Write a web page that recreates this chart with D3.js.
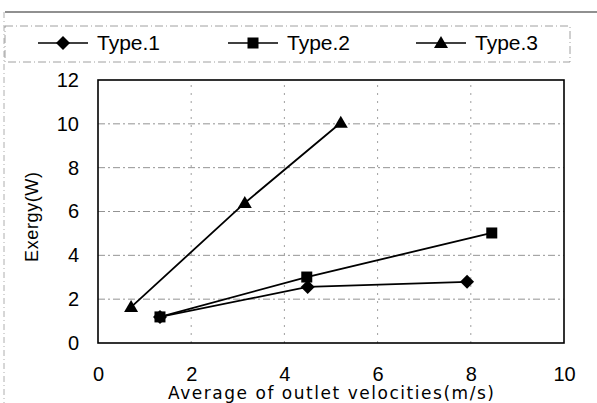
<!DOCTYPE html>
<html>
<head>
<meta charset="utf-8">
<title>Exergy vs outlet velocity</title>
<script src="https://cdnjs.cloudflare.com/ajax/libs/d3/7.8.5/d3.min.js"></script>
<style>
  body { margin: 0; background: #fff; }
  svg { display: block; }
  text { font-family: "Liberation Sans", Arial, sans-serif; fill: #000; }
</style>
</head>
<body>
<div id="chart"></div>
<script>
  // data
  var seriesNames = ["Type.1", "Type.2", "Type.3"];
  var markerKinds = ["diamond", "square", "triangle"];
  var type1 = [[1.33, 1.19], [4.5, 2.56], [7.92, 2.79]];
  var type2 = [[1.33, 1.19], [4.48, 3.01], [8.45, 5.02]];
  var type3 = [[0.71, 1.64], [3.15, 6.39], [5.21, 10.05]];
  var xTicks = [0, 2, 4, 6, 8, 10];
  var yTicks = [0, 2, 4, 6, 8, 10, 12];

  var series = [type1, type2, type3];

  var W = 597, H = 403;
  var m = { left: 98, right: 33, top: 80, bottom: 60 };

  var svg = d3.select("#chart").append("svg")
    .attr("width", W).attr("height", H);

  // outer frame (scanned look)
  svg.append("line").attr("x1", 5).attr("x2", W).attr("y1", 12).attr("y2", 12)
    .attr("stroke", "#222").attr("stroke-width", 1.2);
  svg.append("line").attr("x1", 4).attr("x2", 4).attr("y1", 12).attr("y2", H)
    .attr("stroke", "#999").attr("stroke-width", 0.8).attr("stroke-dasharray", "6,3,1,3");

  var x = d3.scaleLinear().domain([0, 10]).range([m.left, W - m.right]);
  var y = d3.scaleLinear().domain([0, 12]).range([H - m.bottom, m.top]);

  // grid
  svg.append("g").selectAll("line").data(yTicks.slice(1, -1)).enter().append("line")
    .attr("x1", x(0)).attr("x2", x(10))
    .attr("y1", function(d) { return y(d); }).attr("y2", function(d) { return y(d); })
    .attr("stroke", "#777").attr("stroke-width", 0.8).attr("stroke-dasharray", "7,3,2,3");
  svg.append("g").selectAll("line").data(xTicks.slice(1, -1)).enter().append("line")
    .attr("y1", y(0)).attr("y2", y(12))
    .attr("x1", function(d) { return x(d); }).attr("x2", function(d) { return x(d); })
    .attr("stroke", "#888").attr("stroke-width", 0.8).attr("stroke-dasharray", "2,6");

  // plot border
  svg.append("rect")
    .attr("x", x(0)).attr("y", y(12))
    .attr("width", x(10) - x(0)).attr("height", y(0) - y(12))
    .attr("fill", "none").attr("stroke", "#000").attr("stroke-width", 1.6);

  // axes (labels only)
  var yAxis = svg.append("g").attr("transform", "translate(" + x(0) + ",0)")
    .call(d3.axisLeft(y).tickValues(yTicks).tickSize(0).tickPadding(19));
  yAxis.select(".domain").remove();
  yAxis.selectAll("text").attr("font-size", 20);

  var xAxis = svg.append("g").attr("transform", "translate(0," + y(0) + ")")
    .call(d3.axisBottom(x).tickValues(xTicks).tickSize(0).tickPadding(24));
  xAxis.select(".domain").remove();
  xAxis.selectAll("text").attr("font-size", 20);

  // axis titles
  svg.append("text")
    .attr("x", 331).attr("y", 399)
    .attr("text-anchor", "middle")
    .attr("font-size", 17)
    .style("font-family", "DejaVu Sans, sans-serif")
    .attr("textLength", 326)
    .text("Average of outlet velocities(m/s)");
  svg.append("text")
    .attr("transform", "translate(38,217) rotate(-90)")
    .attr("text-anchor", "middle")
    .attr("font-size", 18)
    .attr("textLength", 90)
    .text("Exergy(W)");

  function marker(g, kind, cx, cy) {
    if (kind === "diamond") {
      g.append("path").attr("d", "M" + cx + "," + (cy - 7) + "L" + (cx + 7) + "," + cy + "L" + cx + "," + (cy + 7) + "L" + (cx - 7) + "," + cy + "Z");
    } else if (kind === "square") {
      g.append("rect").attr("x", cx - 5.5).attr("y", cy - 5.5).attr("width", 11).attr("height", 11);
    } else {
      g.append("path").attr("d", "M" + cx + "," + (cy - 7) + "L" + (cx + 7) + "," + (cy + 5) + "L" + (cx - 7) + "," + (cy + 5) + "Z");
    }
  }

  var line = d3.line().x(function(d) { return x(d[0]); }).y(function(d) { return y(d[1]); });

  series.forEach(function(s, i) {
    svg.append("path").datum(s).attr("d", line)
      .attr("fill", "none").attr("stroke", "#000").attr("stroke-width", 1.8);
    var g = svg.append("g").attr("fill", "#000");
    s.forEach(function(p) { marker(g, markerKinds[i], x(p[0]), y(p[1])); });
  });

  // legend box
  svg.append("rect").attr("x", 5).attr("y", 26).attr("width", 565).attr("height", 36)
    .attr("fill", "none").attr("stroke", "#888").attr("stroke-width", 0.8)
    .attr("stroke-dasharray", "8,3,1,3");
  var legX = [38, 228, 416];
  seriesNames.forEach(function(name, i) {
    var g = svg.append("g").attr("fill", "#000");
    g.append("line").attr("x1", legX[i]).attr("x2", legX[i] + 50)
      .attr("y1", 43).attr("y2", 43).attr("stroke", "#000").attr("stroke-width", 1.6);
    marker(g, markerKinds[i], legX[i] + 25, 43);
    svg.append("text").attr("x", legX[i] + 59).attr("y", 50)
      .attr("font-size", 21).text(name);
  });
</script>
</body>
</html>
